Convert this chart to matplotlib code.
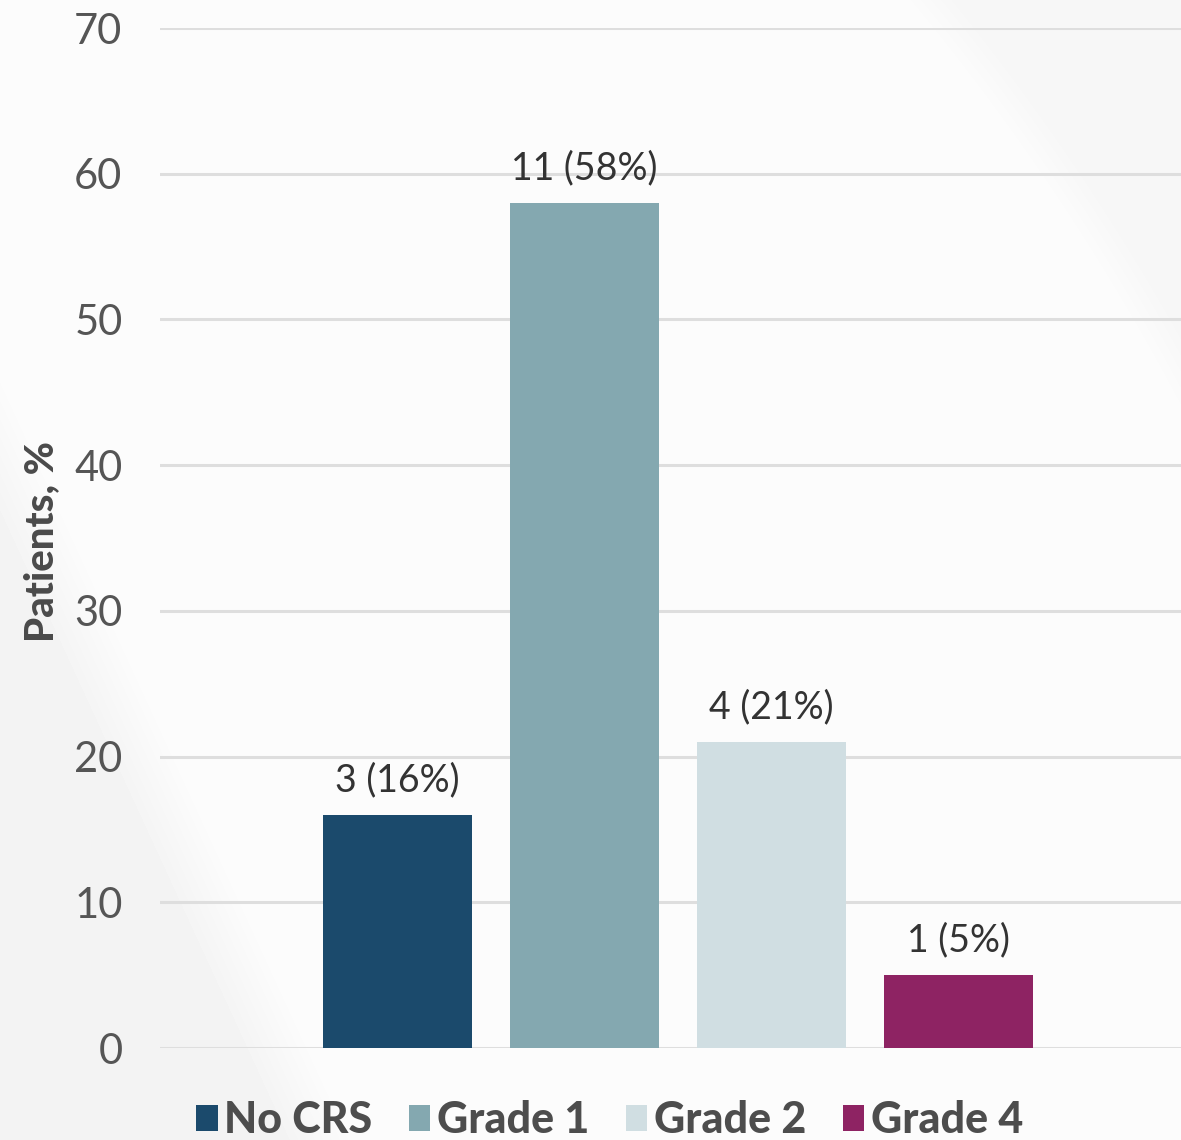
import matplotlib
matplotlib.use("Agg")
import numpy as np
import matplotlib.pyplot as plt
from matplotlib.patches import Patch

# CRS grade distribution (n = 19)
categories = ["No CRS", "Grade 1", "Grade 2", "Grade 4"]
counts = [3, 11, 4, 1]
percents = [16, 58, 21, 5]
colors = ["#1b4a6c", "#84a8b0", "#d0dee2", "#8e2363"]
yticks = [0, 10, 20, 30, 40, 50, 60, 70]

plt.rcParams["font.family"] = ["Lato", "DejaVu Sans"]

W, H = 1181, 1140
fig = plt.figure(figsize=(W / 100, H / 100), dpi=100, facecolor="#fbfbfb")

# soft grey backdrop shading
bg = fig.add_axes([0, 0, 1, 1], zorder=-5)
yy, xx = np.mgrid[0:H, 0:W]
field = np.full((H, W), 0.985)
d_left = (xx - (yy - 380) * 0.46) / 60.0
field -= 0.028 * np.clip(-d_left, 0, 1)
r = np.hypot(xx + 900, yy - 1500)
field -= 0.02 * np.clip((r - 2350) / 40.0, 0, 1)
bg.imshow(field, cmap="gray", vmin=0, vmax=1, aspect="auto", interpolation="bilinear")
bg.set_axis_off()

ax = fig.add_axes([160 / W, (H - 1048) / H, (W - 160) / W, 1020 / H])
ax.set_facecolor("none")

x = list(range(len(categories)))
bars = ax.bar(x, percents, width=0.8, color=colors, zorder=3)

for xi, c, p in zip(x, counts, percents):
    ax.annotate(f"{c} ({p}%)", xy=(xi, p), xytext=(0, 12), textcoords="offset points",
                ha="center", va="bottom", fontsize=27, color="#333333", zorder=4)

ax.set_xlim(-1.27, 4.19)
ax.set_ylim(0, 70)
ax.set_yticks(yticks)
ax.set_yticklabels([str(t) for t in yticks], fontsize=30, color="#555555")
ax.tick_params(axis="y", length=0, pad=27)
ax.set_xticks([])
ax.yaxis.grid(True, color="#dedede", linewidth=2.2, zorder=0)
ax.set_axisbelow(True)
for s in ax.spines.values():
    s.set_visible(False)

fig.text(42 / W, 1 - 541 / H, "Patients, %", rotation=90, ha="center", va="center",
         fontsize=29, fontweight="black", color="#4a4a4a")

handles = [Patch(facecolor=c, edgecolor="none") for c in colors]
leg = fig.legend(handles, categories, loc="center", bbox_to_anchor=(0.516, 1 - 1120 / H),
                 ncol=4, frameon=False, handlelength=0.5, handleheight=0.55,
                 handletextpad=0.15, columnspacing=0.85,
                 prop={"size": 31, "weight": "black"})
for t in leg.get_texts():
    t.set_color("#4d4d4d")

fig.savefig("out.png", dpi=100, facecolor=fig.get_facecolor())
